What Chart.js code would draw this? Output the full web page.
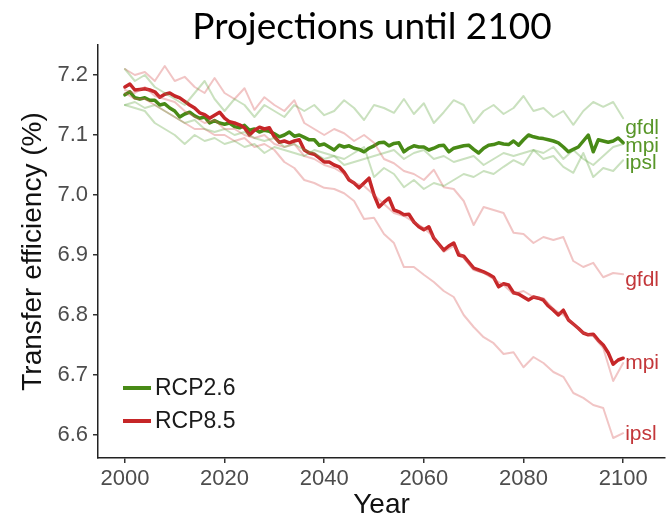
<!DOCTYPE html>
<html>
<head>
<meta charset="utf-8">
<script src="https://cdn.jsdelivr.net/npm/chart.js@4.4.0/dist/chart.umd.min.js"></script>
<style>
  html, body { margin: 0; padding: 0; background: #fff; }
  #wrap { width: 667px; height: 522px; }
</style>
</head>
<body>
<div id="wrap"><canvas id="chart" width="667" height="522"></canvas></div>
<script>
// annual years for the scenario means, every second year for the model runs
const years = [
  2000, 2001, 2002, 2003, 2004, 2005, 2006, 2007, 2008, 2009,
  2010, 2011, 2012, 2013, 2014, 2015, 2016, 2017, 2018, 2019,
  2020, 2021, 2022, 2023, 2024, 2025, 2026, 2027, 2028, 2029,
  2030, 2031, 2032, 2033, 2034, 2035, 2036, 2037, 2038, 2039,
  2040, 2041, 2042, 2043, 2044, 2045, 2046, 2047, 2048, 2049,
  2050, 2051, 2052, 2053, 2054, 2055, 2056, 2057, 2058, 2059,
  2060, 2061, 2062, 2063, 2064, 2065, 2066, 2067, 2068, 2069,
  2070, 2071, 2072, 2073, 2074, 2075, 2076, 2077, 2078, 2079,
  2080, 2081, 2082, 2083, 2084, 2085, 2086, 2087, 2088, 2089,
  2090, 2091, 2092, 2093, 2094, 2095, 2096, 2097, 2098, 2099,
  2100
];
const years2 = [
  2000, 2002, 2004, 2006, 2008, 2010, 2012, 2014, 2016, 2018,
  2020, 2022, 2024, 2026, 2028, 2030, 2032, 2034, 2036, 2038,
  2040, 2042, 2044, 2046, 2048, 2050, 2052, 2054, 2056, 2058,
  2060, 2062, 2064, 2066, 2068, 2070, 2072, 2074, 2076, 2078,
  2080, 2082, 2084, 2086, 2088, 2090, 2092, 2094, 2096, 2098,
  2100
];

const rcp26Mean = [
  7.167, 7.172, 7.162, 7.160, 7.162, 7.158, 7.158, 7.150, 7.152, 7.145,
  7.140, 7.130, 7.135, 7.138, 7.132, 7.128, 7.130, 7.120, 7.124, 7.120,
  7.118, 7.120, 7.114, 7.112, 7.116, 7.108, 7.110, 7.105, 7.108, 7.106,
  7.102, 7.097, 7.100, 7.105, 7.098, 7.100, 7.096, 7.092, 7.092, 7.083,
  7.085, 7.080, 7.075, 7.083, 7.080, 7.082, 7.078, 7.076, 7.072, 7.078,
  7.082, 7.087, 7.088, 7.082, 7.086, 7.087, 7.072, 7.078, 7.082, 7.080,
  7.080, 7.075, 7.078, 7.082, 7.083, 7.072, 7.078, 7.080, 7.082, 7.083,
  7.076, 7.070, 7.078, 7.083, 7.084, 7.087, 7.085, 7.084, 7.090, 7.083,
  7.092, 7.100, 7.097, 7.095, 7.094, 7.092, 7.090, 7.087, 7.080, 7.072,
  7.076, 7.080, 7.090, 7.100, 7.072, 7.092, 7.090, 7.088, 7.090, 7.095,
  7.087
];
const rcp85Mean = [
  7.180, 7.185, 7.175, 7.176, 7.177, 7.175, 7.172, 7.163, 7.168, 7.170,
  7.165, 7.162, 7.156, 7.150, 7.145, 7.137, 7.134, 7.128, 7.133, 7.138,
  7.128, 7.122, 7.120, 7.117, 7.112, 7.100, 7.108, 7.113, 7.110, 7.112,
  7.097, 7.088, 7.090, 7.087, 7.090, 7.092, 7.075, 7.070, 7.068, 7.062,
  7.055, 7.055, 7.050, 7.047, 7.038, 7.025, 7.020, 7.012, 7.020, 7.028,
  7.000, 6.980, 6.988, 6.995, 6.975, 6.972, 6.967, 6.968, 6.955, 6.947,
  6.942, 6.947, 6.928, 6.918, 6.908, 6.915, 6.920, 6.900, 6.898, 6.888,
  6.878, 6.875, 6.872, 6.868, 6.863, 6.847, 6.852, 6.850, 6.837, 6.835,
  6.830, 6.825, 6.830, 6.828, 6.825, 6.815, 6.808, 6.800, 6.808, 6.792,
  6.785, 6.778, 6.770, 6.767, 6.768, 6.758, 6.750, 6.737, 6.718, 6.725,
  6.728
];

// individual models, RCP2.6
const gfdl26 = [
  7.21, 7.19, 7.20, 7.18, 7.17, 7.16, 7.15, 7.17, 7.19, 7.16,
  7.14, 7.16, 7.15, 7.13, 7.15, 7.14, 7.13, 7.15, 7.14, 7.15,
  7.133, 7.14, 7.158, 7.145, 7.125, 7.15, 7.145, 7.137, 7.16, 7.135,
  7.153, 7.12, 7.138, 7.158, 7.15, 7.12, 7.14, 7.15, 7.135, 7.145,
  7.165, 7.14, 7.145, 7.13, 7.14, 7.117, 7.14, 7.155, 7.147, 7.155,
  7.128
];
const mpi26 = [
  7.15, 7.155, 7.145, 7.15, 7.14, 7.13, 7.12, 7.125, 7.11, 7.105,
  7.11, 7.10, 7.105, 7.095, 7.09, 7.095, 7.08, 7.085, 7.075, 7.07,
  7.06, 7.065, 7.05, 7.055, 7.06, 7.065, 7.07, 7.075, 7.06, 7.07,
  7.075, 7.06, 7.065, 7.055, 7.06, 7.065, 7.05, 7.06, 7.07, 7.065,
  7.07, 7.075, 7.07, 7.08, 7.06, 7.075, 7.06, 7.05, 7.065, 7.08,
  7.085
];
const ipsl26 = [
  7.15, 7.145, 7.14, 7.12, 7.11, 7.10, 7.085, 7.10, 7.09, 7.095,
  7.085, 7.09, 7.08, 7.085, 7.07, 7.08, 7.075, 7.07, 7.065, 7.075,
  7.07, 7.065, 7.06, 7.07, 7.08, 7.03, 7.045, 7.035, 7.013, 7.025,
  7.01, 7.02, 7.015, 7.025, 7.035, 7.03, 7.04, 7.035, 7.047, 7.058,
  7.05, 7.075, 7.06, 7.065, 7.047, 7.037, 7.07, 7.03, 7.045, 7.04,
  7.058
];

// individual models, RCP8.5
const gfdl85 = [
  7.21, 7.20, 7.205, 7.19, 7.215, 7.19, 7.197, 7.18, 7.17, 7.195,
  7.17, 7.16, 7.178, 7.142, 7.163, 7.15, 7.14, 7.158, 7.12, 7.11,
  7.10, 7.11, 7.103, 7.09, 7.10, 7.087, 7.06, 7.053, 7.04, 7.035,
  7.025, 7.042, 7.013, 7.01, 6.99, 6.95, 6.98, 6.975, 6.97, 6.937,
  6.935, 6.92, 6.93, 6.925, 6.93, 6.89, 6.88, 6.887, 6.863, 6.87,
  6.868
];
const mpi85 = [
  7.175, 7.17, 7.18, 7.165, 7.16, 7.155, 7.14, 7.13, 7.12, 7.125,
  7.11, 7.11, 7.10, 7.095, 7.10, 7.085, 7.08, 7.085, 7.065, 7.06,
  7.05, 7.045, 7.035, 7.02, 7.015, 7.0, 6.985, 6.97, 6.965, 6.955,
  6.945, 6.93, 6.905, 6.915, 6.895, 6.875, 6.87, 6.86, 6.85, 6.835,
  6.84, 6.83, 6.828, 6.81, 6.80, 6.785, 6.77, 6.765, 6.745, 6.69,
  6.72
];
const ipsl85 = [
  7.17, 7.16, 7.16, 7.15, 7.14, 7.13, 7.12, 7.11, 7.11, 7.10,
  7.10, 7.09, 7.095, 7.08, 7.085, 7.075, 7.055, 7.045, 7.025, 7.02,
  7.012, 7.01, 7.003, 6.99, 6.96, 6.962, 6.935, 6.92, 6.88, 6.88,
  6.867, 6.855, 6.84, 6.83, 6.80, 6.78, 6.763, 6.753, 6.735, 6.738,
  6.713, 6.73, 6.72, 6.705, 6.697, 6.67, 6.662, 6.65, 6.645, 6.595,
  6.603
];

const modelNames = ['gfdl', 'mpi', 'ipsl'];
// where the model names sit on the value axis (stacked so they don't overlap)
const labelAt26 = [7.112, 7.081, 7.053];
const labelAt85 = [6.858, 6.72, 6.602];

const xTicks = [2000, 2020, 2040, 2060, 2080, 2100];
const yTicks = [6.6, 6.7, 6.8, 6.9, 7.0, 7.1, 7.2];

const GREEN = 'rgb(72,138,22)';
const RED = 'rgb(198,38,40)';
const GREEN_FAINT = 'rgba(95,165,60,0.33)';
const RED_FAINT = 'rgba(215,90,90,0.35)';
const SANS = '"Liberation Sans", Arial, sans-serif';

function toXY(xs, ys) {
    return ys.map((v, i) => ({ x: xs[i], y: v }));
}

function faint(label, ys, color) {
    return { label, data: toXY(years2, ys), borderColor: color, borderWidth: 2, pointRadius: 0, fill: false };
}

const datasets = [
    faint('gfdl 2.6', gfdl26, GREEN_FAINT),
    faint('mpi 2.6', mpi26, GREEN_FAINT),
    faint('ipsl 2.6', ipsl26, GREEN_FAINT),
    faint('gfdl 8.5', gfdl85, RED_FAINT),
    faint('mpi 8.5', mpi85, RED_FAINT),
    faint('ipsl 8.5', ipsl85, RED_FAINT),
    { label: 'RCP8.5', data: toXY(years, rcp85Mean), borderColor: RED, borderWidth: 3.5, pointRadius: 0, fill: false },
    { label: 'RCP2.6', data: toXY(years, rcp26Mean), borderColor: GREEN, borderWidth: 3.5, pointRadius: 0, fill: false }
];

const decorations = {
    id: 'decorations',
    afterDraw(chart) {
        const ctx = chart.ctx;
        const xs = chart.scales.x;
        const ys = chart.scales.y;
        ctx.save();

        // title
        ctx.fillStyle = '#000';
        ctx.font = '37px Lato, "Open Sans", sans-serif';
        ctx.textAlign = 'center';
        ctx.textBaseline = 'middle';
        ctx.fillText('Projections until 2100', 372, 27);

        // legend, bottom left inside the panel
        const rows = [['RCP2.6', GREEN, 388], ['RCP8.5', RED, 421]];
        ctx.font = '23px ' + SANS;
        ctx.textAlign = 'left';
        rows.forEach(([txt, col, y]) => {
            ctx.strokeStyle = col;
            ctx.lineWidth = 4;
            ctx.beginPath();
            ctx.moveTo(123, y);
            ctx.lineTo(151, y);
            ctx.stroke();
            ctx.fillStyle = '#1a1a1a';
            ctx.fillText(txt, 155, y + 1);
        });

        // model names at the line ends
        const lx = xs.getPixelForValue(2100) + 2;
        ctx.font = '21px ' + SANS;
        modelNames.forEach((name, i) => {
            ctx.fillStyle = 'rgb(88,150,40)';
            ctx.fillText(name, lx, ys.getPixelForValue(labelAt26[i]));
            ctx.fillStyle = 'rgb(195,55,58)';
            ctx.fillText(name, lx, ys.getPixelForValue(labelAt85[i]));
        });
        ctx.restore();
    }
};

new Chart(document.getElementById('chart').getContext('2d'), {
    type: 'line',
    data: { datasets },
    options: {
        responsive: false,
        animation: false,
        devicePixelRatio: 1,
        layout: { padding: { top: 45, right: 2, left: 0, bottom: 0 } },
        elements: { line: { tension: 0, borderJoinStyle: 'round', borderCapStyle: 'round' } },
        plugins: {
            legend: { display: false },
            tooltip: { enabled: false }
        },
        scales: {
            x: {
                type: 'linear',
                min: 1994.6,
                max: 2108.4,
                afterFit(s) { s.height = 64; },
                afterBuildTicks(s) { s.ticks = xTicks.map(v => ({ value: v })); },
                ticks: { color: '#4d4d4d', font: { family: SANS, size: 22 }, padding: 3, maxRotation: 0, callback: v => String(v) },
                grid: { drawOnChartArea: false, drawTicks: true, tickLength: 5, color: '#333', lineWidth: 1.5 },
                border: { display: true, color: '#222', width: 1.5 },
                title: { display: true, text: 'Year', color: '#111', font: { family: SANS, size: 28, lineHeight: 1.2 }, padding: { top: 0, bottom: 0 } }
            },
            y: {
                min: 6.5617,
                max: 7.25,
                afterFit(s) { s.width = 98; },
                afterBuildTicks(s) { s.ticks = yTicks.map(v => ({ value: v })); },
                ticks: { color: '#4d4d4d', font: { family: SANS, size: 22 }, padding: 5, callback: v => v.toFixed(1) },
                grid: { drawOnChartArea: false, drawTicks: true, tickLength: 5, color: '#333', lineWidth: 1.5 },
                border: { display: true, color: '#222', width: 1.5 },
                title: { display: true, text: 'Transfer efficiency (%)', color: '#111', font: { family: SANS, size: 28, lineHeight: 1.2 }, padding: { top: 16, bottom: 0 } }
            }
        }
    },
    plugins: [decorations]
});
</script>
</body>
</html>
